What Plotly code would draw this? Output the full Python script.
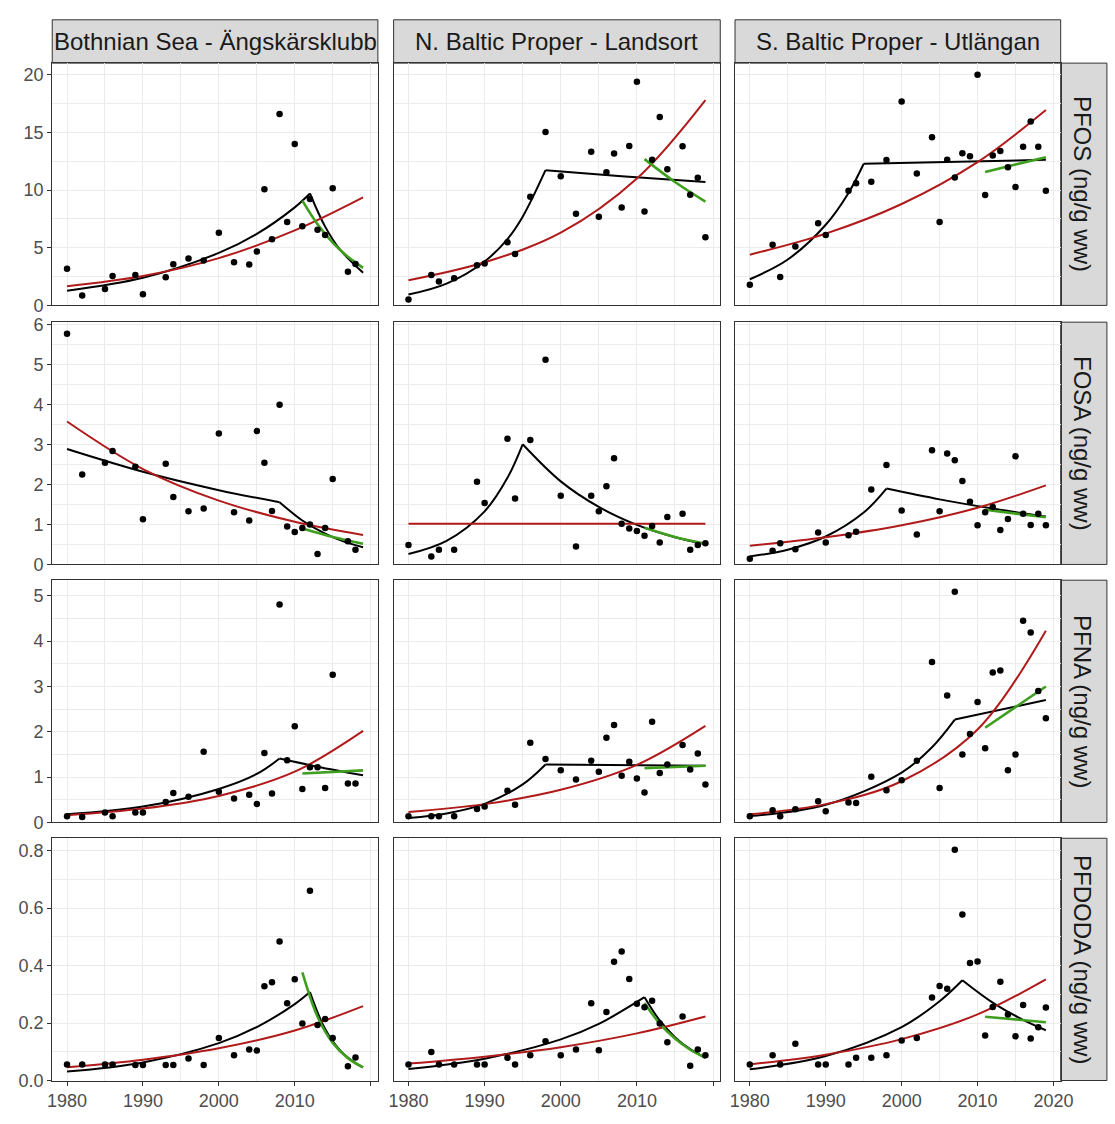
import plotly.graph_objects as go

# ---------------- labels ----------------
SITES = ["Bothnian Sea - Ängskärsklubb", "N. Baltic Proper - Landsort", "S. Baltic Proper - Utlängan"]
COMPOUNDS = ["PFOS (ng/g ww)", "FOSA (ng/g ww)", "PFNA (ng/g ww)", "PFDODA (ng/g ww)"]
X_TICKS = [1980, 1990, 2000, 2010, 2020]
X_MINOR = [1985, 1995, 2005, 2015]
Y_TICKS = [[0, 5, 10, 15, 20], [0, 1, 2, 3, 4, 5, 6], [0, 1, 2, 3, 4, 5], [0.0, 0.2, 0.4, 0.6, 0.8]]
Y_MINOR = [[2.5, 7.5, 12.5, 17.5], [0.5, 1.5, 2.5, 3.5, 4.5, 5.5], [0.5, 1.5, 2.5, 3.5, 4.5], [0.1, 0.3, 0.5, 0.7]]
Y_FMT = ["{:g}", "{:g}", "{:g}", "{:.1f}"]

# ---------------- PFOS ----------------
pfos_bs_year = [1980, 1982, 1985, 1986, 1989, 1990, 1993, 1994, 1996, 1998, 2000, 2002, 2004, 2005, 2006, 2007, 2008, 2009, 2010, 2011, 2012, 2013, 2014, 2015, 2017, 2018]
pfos_bs_val = [3.18, 0.85, 1.42, 2.55, 2.64, 0.96, 2.44, 3.57, 4.06, 3.9, 6.3, 3.74, 3.55, 4.68, 10.07, 5.73, 16.6, 7.23, 13.99, 6.87, 9.22, 6.55, 6.1, 10.16, 2.92, 3.6]
pfos_bs_red = ([1980, 1990, 2000, 2010, 2019], [1.67, 2.55, 4.1, 6.5, 9.36])
pfos_bs_blk = [([1980, 1990, 2000, 2005, 2010, 2012], [1.28, 2.4, 4.55, 6.2, 8.5, 9.7]),
               ([2012, 2014, 2016, 2019], [9.7, 6.83, 4.81, 2.84])]
pfos_bs_grn = ([2011, 2013, 2015, 2017, 2019], [9.08, 7.03, 5.44, 4.21, 3.26])

pfos_nb_year = [1980, 1983, 1984, 1986, 1989, 1990, 1993, 1994, 1996, 1998, 2000, 2002, 2004, 2005, 2006, 2007, 2008, 2009, 2010, 2011, 2012, 2013, 2014, 2016, 2017, 2018, 2019]
pfos_nb_val = [0.51, 2.64, 2.07, 2.35, 3.49, 3.63, 5.48, 4.45, 9.42, 15.04, 11.2, 7.94, 13.33, 7.69, 11.55, 13.16, 8.48, 13.82, 19.38, 8.14, 12.62, 16.34, 11.8, 13.79, 9.59, 11.06, 5.9]
pfos_nb_red = ([1980, 1990, 2000, 2010, 2019], [2.18, 3.74, 6.3, 11.0, 17.8])
pfos_nb_blk = [([1980, 1985, 1990, 1993, 1995, 1998], [0.94, 1.89, 3.81, 5.75, 7.69, 11.72]),
               ([1998, 2008, 2019], [11.72, 11.2, 10.7])]
pfos_nb_grn = ([2011, 2015, 2019], [12.68, 10.7, 9.0])

pfos_ut_year = [1980, 1983, 1984, 1986, 1989, 1990, 1993, 1994, 1996, 1998, 2000, 2002, 2004, 2005, 2006, 2007, 2008, 2009, 2010, 2011, 2012, 2013, 2014, 2015, 2016, 2017, 2018, 2019]
pfos_ut_val = [1.79, 5.25, 2.47, 5.1, 7.12, 6.1, 9.93, 10.58, 10.72, 12.6, 17.67, 11.43, 14.58, 7.23, 12.62, 11.09, 13.19, 12.94, 20.0, 9.56, 12.99, 13.39, 11.97, 10.27, 13.76, 15.94, 13.76, 9.93]
pfos_ut_red = ([1980, 1990, 2000, 2010, 2019], [4.4, 6.22, 8.79, 12.42, 16.94])
pfos_ut_blk = [([1980, 1985, 1990, 1993, 1995], [2.27, 3.98, 6.99, 9.75, 12.28]),
               ([1995, 2019], [12.28, 12.62])]
pfos_ut_grn = ([2011, 2019], [11.57, 12.85])

# ---------------- FOSA ----------------
fosa_bs_year = [1980, 1982, 1985, 1986, 1989, 1990, 1993, 1994, 1996, 1998, 2000, 2002, 2004, 2005, 2006, 2007, 2008, 2009, 2010, 2011, 2012, 2013, 2014, 2015, 2017, 2018]
fosa_bs_val = [5.78, 2.25, 2.55, 2.84, 2.45, 1.13, 2.52, 1.69, 1.33, 1.4, 3.28, 1.31, 1.1, 3.34, 2.55, 1.34, 4.0, 0.95, 0.81, 0.91, 1.0, 0.26, 0.91, 2.14, 0.58, 0.37]
fosa_bs_red = ([1980, 1990, 2000, 2010, 2019], [3.58, 2.39, 1.6, 1.07, 0.74])
fosa_bs_blk = [([1980, 1990, 2000, 2008], [2.89, 2.32, 1.86, 1.56]),
               ([2008, 2011, 2014, 2016.5, 2019], [1.56, 1.10, 0.77, 0.57, 0.43])]
fosa_bs_grn = ([2011, 2015, 2019], [0.9, 0.69, 0.52])

fosa_nb_year = [1980, 1983, 1984, 1986, 1989, 1990, 1993, 1994, 1996, 1998, 2000, 2002, 2004, 2005, 2006, 2007, 2008, 2009, 2010, 2011, 2012, 2013, 2014, 2016, 2017, 2018, 2019]
fosa_nb_val = [0.49, 0.2, 0.37, 0.37, 2.07, 1.54, 3.15, 1.65, 3.12, 5.13, 1.72, 0.45, 1.72, 1.33, 1.96, 2.66, 1.02, 0.9, 0.84, 0.72, 0.96, 0.55, 1.19, 1.27, 0.37, 0.49, 0.53]
fosa_nb_red = ([1980, 2019], [1.02, 1.02])
fosa_nb_blk = [([1980, 1985, 1990, 1993, 1995], [0.26, 0.59, 1.33, 2.17, 3.01]),
               ([1995, 2000, 2005, 2010, 2015, 2019], [3.01, 2.08, 1.44, 0.99, 0.68, 0.51])]
fosa_nb_grn = ([2011, 2015, 2019], [0.92, 0.69, 0.52])

fosa_ut_year = [1980, 1983, 1984, 1986, 1989, 1990, 1993, 1994, 1996, 1998, 2000, 2002, 2004, 2005, 2006, 2007, 2008, 2009, 2010, 2011, 2012, 2013, 2014, 2015, 2016, 2017, 2018, 2019]
fosa_ut_val = [0.14, 0.34, 0.53, 0.38, 0.8, 0.55, 0.73, 0.82, 1.88, 2.49, 1.35, 0.75, 2.86, 1.33, 2.78, 2.61, 2.09, 1.57, 0.98, 1.31, 1.44, 0.86, 1.14, 2.71, 1.27, 0.99, 1.27, 0.98]
fosa_ut_red = ([1980, 1990, 2000, 2010, 2019], [0.47, 0.68, 0.98, 1.42, 1.98])
fosa_ut_blk = [([1980, 1985, 1990, 1995, 1998], [0.2, 0.37, 0.70, 1.3, 1.9]),
               ([1998, 2005, 2012, 2019], [1.9, 1.63, 1.40, 1.2])]
fosa_ut_grn = ([2011, 2019], [1.37, 1.18])

# ---------------- PFNA ----------------
pfna_bs_year = [1980, 1982, 1985, 1986, 1989, 1990, 1993, 1994, 1996, 1998, 2000, 2002, 2004, 2005, 2006, 2007, 2008, 2009, 2010, 2011, 2012, 2013, 2014, 2015, 2017, 2018]
pfna_bs_val = [0.14, 0.12, 0.22, 0.14, 0.22, 0.22, 0.45, 0.65, 0.57, 1.56, 0.68, 0.53, 0.61, 0.41, 1.53, 0.64, 4.81, 1.37, 2.12, 0.74, 1.22, 1.22, 0.76, 3.26, 0.86, 0.86]
pfna_bs_red = ([1980, 1990, 2000, 2010, 2019], [0.16, 0.306, 0.586, 1.12, 2.02])
pfna_bs_blk = [([1980, 1990, 2000, 2005, 2008], [0.18, 0.35, 0.74, 1.07, 1.41]),
               ([2008, 2013, 2019], [1.41, 1.23, 1.04])]
pfna_bs_grn = ([2011, 2019], [1.08, 1.15])

pfna_nb_year = [1980, 1983, 1984, 1986, 1989, 1990, 1993, 1994, 1996, 1998, 2000, 2002, 2004, 2005, 2006, 2007, 2008, 2009, 2010, 2011, 2012, 2013, 2014, 2016, 2017, 2018, 2019]
pfna_nb_val = [0.14, 0.14, 0.14, 0.14, 0.3, 0.35, 0.7, 0.39, 1.76, 1.4, 1.15, 0.95, 1.36, 1.12, 1.87, 2.15, 1.03, 1.34, 0.97, 0.66, 2.22, 1.09, 1.28, 1.71, 1.17, 1.52, 0.84]
pfna_nb_red = ([1980, 1990, 2000, 2010, 2019], [0.23, 0.405, 0.72, 1.27, 2.13])
pfna_nb_blk = [([1980, 1985, 1990, 1995, 1998], [0.1, 0.2, 0.41, 0.84, 1.28]),
               ([1998, 2019], [1.28, 1.25])]
pfna_nb_grn = ([2011, 2019], [1.2, 1.25])

pfna_ut_year = [1980, 1983, 1984, 1986, 1989, 1990, 1993, 1994, 1996, 1998, 2000, 2002, 2004, 2005, 2006, 2007, 2008, 2009, 2010, 2011, 2012, 2013, 2014, 2015, 2016, 2017, 2018, 2019]
pfna_ut_val = [0.14, 0.27, 0.14, 0.29, 0.47, 0.25, 0.44, 0.43, 1.01, 0.71, 0.93, 1.36, 3.54, 0.76, 2.8, 5.09, 1.5, 1.95, 2.66, 1.64, 3.31, 3.35, 1.15, 1.5, 4.45, 4.19, 2.9, 2.3]
pfna_ut_red = ([1980, 1990, 2000, 2010, 2019], [0.18, 0.405, 0.91, 2.05, 4.23])
pfna_ut_blk = [([1980, 1990, 2000, 2004, 2007], [0.14, 0.39, 1.1, 1.66, 2.27]),
               ([2007, 2019], [2.27, 2.7])]
pfna_ut_grn = ([2011, 2019], [2.09, 3.0])

# ---------------- PFDODA ----------------
pfdoda_bs_year = [1980, 1982, 1985, 1986, 1989, 1990, 1993, 1994, 1996, 1998, 2000, 2002, 2004, 2005, 2006, 2007, 2008, 2009, 2010, 2011, 2012, 2013, 2014, 2015, 2017, 2018]
pfdoda_bs_val = [0.056, 0.056, 0.056, 0.056, 0.054, 0.054, 0.054, 0.054, 0.077, 0.054, 0.148, 0.088, 0.108, 0.104, 0.328, 0.342, 0.484, 0.269, 0.352, 0.198, 0.66, 0.193, 0.214, 0.148, 0.05, 0.08]
pfdoda_bs_red = ([1980, 1990, 2000, 2010, 2019], [0.046, 0.072, 0.112, 0.174, 0.259])
pfdoda_bs_blk = [([1980, 1990, 2000, 2005, 2010, 2012], [0.031, 0.063, 0.13, 0.186, 0.266, 0.308]),
                 ([2012, 2014, 2016, 2018, 2019], [0.308, 0.179, 0.104, 0.0605, 0.046])]
pfdoda_bs_grn = ([2011, 2013, 2015, 2017, 2019], [0.376, 0.222, 0.131, 0.078, 0.046])

pfdoda_nb_year = [1980, 1983, 1984, 1986, 1989, 1990, 1993, 1994, 1996, 1998, 2000, 2002, 2004, 2005, 2006, 2007, 2008, 2009, 2010, 2011, 2012, 2013, 2014, 2016, 2017, 2018, 2019]
pfdoda_nb_val = [0.056, 0.099, 0.056, 0.056, 0.056, 0.056, 0.079, 0.056, 0.088, 0.137, 0.088, 0.108, 0.269, 0.105, 0.238, 0.413, 0.449, 0.353, 0.267, 0.255, 0.278, 0.198, 0.133, 0.223, 0.051, 0.108, 0.088]
pfdoda_nb_red = ([1980, 1990, 2000, 2010, 2019], [0.059, 0.083, 0.116, 0.164, 0.223])
pfdoda_nb_blk = [([1980, 1990, 2000, 2005, 2011], [0.04, 0.076, 0.143, 0.197, 0.29]),
                 ([2011, 2013, 2015, 2017, 2019], [0.29, 0.209, 0.151, 0.109, 0.079])]
pfdoda_nb_grn = ([2011, 2013, 2015, 2017, 2019], [0.27, 0.198, 0.146, 0.107, 0.079])

pfdoda_ut_year = [1980, 1983, 1984, 1986, 1989, 1990, 1993, 1994, 1996, 1998, 2000, 2002, 2004, 2005, 2006, 2007, 2008, 2009, 2010, 2011, 2012, 2013, 2014, 2015, 2016, 2017, 2018, 2019]
pfdoda_ut_val = [0.056, 0.088, 0.056, 0.128, 0.056, 0.056, 0.056, 0.079, 0.079, 0.088, 0.139, 0.148, 0.289, 0.329, 0.319, 0.803, 0.578, 0.409, 0.414, 0.157, 0.256, 0.344, 0.23, 0.154, 0.263, 0.146, 0.185, 0.254]
pfdoda_ut_red = ([1980, 1990, 2000, 2010, 2019], [0.056, 0.09, 0.144, 0.23, 0.352])
pfdoda_ut_blk = [([1980, 1990, 2000, 2005, 2008], [0.039, 0.085, 0.186, 0.276, 0.349]),
                 ([2008, 2012, 2016, 2019], [0.349, 0.271, 0.211, 0.175])]
pfdoda_ut_grn = ([2011, 2019], [0.222, 0.203])

PANELS = [
    [(pfos_bs_year, pfos_bs_val, pfos_bs_red, pfos_bs_blk, pfos_bs_grn),
     (pfos_nb_year, pfos_nb_val, pfos_nb_red, pfos_nb_blk, pfos_nb_grn),
     (pfos_ut_year, pfos_ut_val, pfos_ut_red, pfos_ut_blk, pfos_ut_grn)],
    [(fosa_bs_year, fosa_bs_val, fosa_bs_red, fosa_bs_blk, fosa_bs_grn),
     (fosa_nb_year, fosa_nb_val, fosa_nb_red, fosa_nb_blk, fosa_nb_grn),
     (fosa_ut_year, fosa_ut_val, fosa_ut_red, fosa_ut_blk, fosa_ut_grn)],
    [(pfna_bs_year, pfna_bs_val, pfna_bs_red, pfna_bs_blk, pfna_bs_grn),
     (pfna_nb_year, pfna_nb_val, pfna_nb_red, pfna_nb_blk, pfna_nb_grn),
     (pfna_ut_year, pfna_ut_val, pfna_ut_red, pfna_ut_blk, pfna_ut_grn)],
    [(pfdoda_bs_year, pfdoda_bs_val, pfdoda_bs_red, pfdoda_bs_blk, pfdoda_bs_grn),
     (pfdoda_nb_year, pfdoda_nb_val, pfdoda_nb_red, pfdoda_nb_blk, pfdoda_nb_grn),
     (pfdoda_ut_year, pfdoda_ut_val, pfdoda_ut_red, pfdoda_ut_blk, pfdoda_ut_grn)],
]

# ---------------- layout geometry (screen pixels of the 1115x1124 window) ----------------
W, H = 1115, 1124
COL_PX = [(48, 379), (395, 727), (742, 1073)]
ROW_PX = [(57, 303), (320, 566), (582, 828), (844, 1090)]
STRIP_TOP = 13
STRIP_RIGHT = 1120

FONT = "Liberation Sans, Arial, Helvetica, sans-serif"
RED = "#B01A1A"
GREEN = "#3E9E1E"
GRID = "#EBEBEB"
BORDER = "#333333"


def px_x(p):
    return p / W


def px_y(p):
    return 1 - p / H


fig = go.Figure()
layout = dict(width=W, height=H, margin=dict(l=0, r=0, t=0, b=0, pad=0),
              paper_bgcolor="white", plot_bgcolor="white", showlegend=False,
              font=dict(family=FONT))
shapes, annotations = [], []

for r in range(4):
    row_max = max(max(PANELS[r][c][1]) for c in range(3))
    y_top = row_max * 1.05
    for c in range(3):
        n = r * 3 + c + 1
        xa = "x" if n == 1 else f"x{n}"
        ya = "y" if n == 1 else f"y{n}"
        yrs, vals, red, blks, grn = PANELS[r][c]
        for seg in blks:
            fig.add_trace(go.Scatter(x=seg[0], y=seg[1], mode="lines",
                                     line=dict(color="black", width=2, shape="spline"),
                                     xaxis=xa, yaxis=ya, hoverinfo="skip"))
        fig.add_trace(go.Scatter(x=red[0], y=red[1], mode="lines",
                                 line=dict(color=RED, width=2, shape="spline"),
                                 xaxis=xa, yaxis=ya, hoverinfo="skip"))
        fig.add_trace(go.Scatter(x=grn[0], y=grn[1], mode="lines",
                                 line=dict(color=GREEN, width=2.6, shape="spline"),
                                 xaxis=xa, yaxis=ya, hoverinfo="skip"))
        fig.add_trace(go.Scatter(x=yrs, y=vals, mode="markers",
                                 marker=dict(color="black", size=6.5),
                                 xaxis=xa, yaxis=ya))

        bottom = (r == 3)
        left = (c == 0)
        if c < 2:
            xtext = [str(v) for v in X_TICKS[:-1]] + [""]
        else:
            xtext = [str(v) for v in X_TICKS]
        kx = "xaxis" if n == 1 else f"xaxis{n}"
        ky = "yaxis" if n == 1 else f"yaxis{n}"
        layout[kx] = dict(
            domain=[px_x(COL_PX[c][0]), px_x(COL_PX[c][1])], anchor=ya,
            range=[1978.05, 2020.95], tickmode="array", tickvals=X_TICKS, ticktext=xtext,
            showticklabels=bottom, ticks="outside" if bottom else "", ticklen=4,
            tickcolor=BORDER, tickwidth=1,
            tickfont=dict(size=18, color="#4D4D4D", family=FONT),
            showgrid=True, gridcolor=GRID, gridwidth=1.4,
            minor=dict(tickmode="array", tickvals=X_MINOR, showgrid=True, gridcolor=GRID, gridwidth=0.7),
            showline=True, mirror=True, linecolor=BORDER, linewidth=1, zeroline=False,
            fixedrange=True)
        layout[ky] = dict(
            domain=[px_y(ROW_PX[r][1]), px_y(ROW_PX[r][0])], anchor=xa,
            range=[0, y_top], tickmode="array", tickvals=Y_TICKS[r],
            ticktext=[Y_FMT[r].format(v) for v in Y_TICKS[r]],
            showticklabels=left, ticks="outside" if left else "", ticklen=4,
            tickcolor=BORDER, tickwidth=1,
            tickfont=dict(size=18, color="#4D4D4D", family=FONT),
            showgrid=True, gridcolor=GRID, gridwidth=1.4,
            minor=dict(tickmode="array", tickvals=Y_MINOR[r], showgrid=True, gridcolor=GRID, gridwidth=0.7),
            showline=True, mirror=True, linecolor=BORDER, linewidth=1, zeroline=False,
            fixedrange=True)

# top strips
for c in range(3):
    x0, x1 = px_x(COL_PX[c][0]), px_x(COL_PX[c][1])
    shapes.append(dict(type="rect", xref="paper", yref="paper", x0=x0, x1=x1,
                       y0=px_y(ROW_PX[0][0]), y1=px_y(STRIP_TOP),
                       fillcolor="#D9D9D9", line=dict(color=BORDER, width=1), layer="below"))
    annotations.append(dict(text=SITES[c], xref="paper", yref="paper",
                            x=(x0 + x1) / 2, y=px_y((STRIP_TOP + ROW_PX[0][0]) / 2),
                            xanchor="center", yanchor="middle", showarrow=False,
                            font=dict(size=24, color="#1A1A1A", family=FONT)))
# right strips
for r in range(4):
    y0, y1 = px_y(ROW_PX[r][1]), px_y(ROW_PX[r][0])
    shapes.append(dict(type="rect", xref="paper", yref="paper",
                       x0=px_x(COL_PX[2][1]), x1=px_x(STRIP_RIGHT), y0=y0, y1=y1,
                       fillcolor="#D9D9D9", line=dict(color=BORDER, width=1), layer="below"))
    annotations.append(dict(text=COMPOUNDS[r], xref="paper", yref="paper",
                            x=px_x(1095), y=(y0 + y1) / 2, textangle=90,
                            xanchor="center", yanchor="middle", showarrow=False,
                            font=dict(size=24, color="#1A1A1A", family=FONT)))

layout["shapes"] = shapes
layout["annotations"] = annotations
fig.update_layout(**layout)
fig.write_html(
    "out.html",
    config={"displayModeBar": False},
    post_script="document.body.style.margin='0';document.body.style.overflow='hidden';"
                "document.documentElement.style.overflow='hidden';",
)
